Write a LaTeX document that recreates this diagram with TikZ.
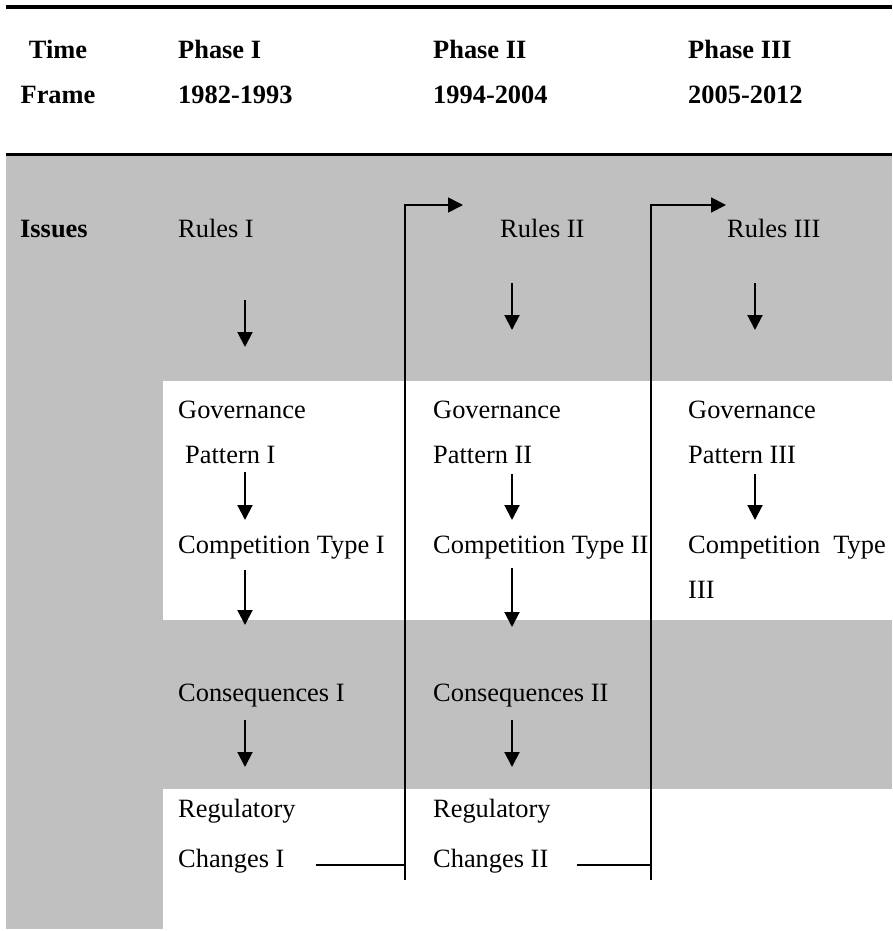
\documentclass[tikz,border=0pt]{standalone}
\usepackage{fontspec}
\setmainfont{Liberation Serif}
\usetikzlibrary{arrows.meta,positioning}
\definecolor{bandgrey}{HTML}{C0C0C0}
\tikzset{
  lbl/.style={anchor=base west, inner sep=0pt, font=\fontsize{26.4}{32}\selectfont},
  hdlbl/.style={lbl, font=\fontsize{26.4}{32}\selectfont\bfseries},
  rulebar/.style={line width=3.4pt},
  steparr/.style={-{Triangle[length=15pt, width=15pt]}, line width=2pt},
  fbline/.style={line width=1.8pt},
  fbarr/.style={fbline, -{Triangle[length=15pt, width=15pt]}},
}

\begin{document}
\begin{tikzpicture}[x=1pt, y=-1pt]
  \useasboundingbox (0,0) rectangle (892,931);

  % grey bands
  \fill[bandgrey] (6,156) rectangle (892,381);
  \fill[bandgrey] (6,156) rectangle (163,929);
  \fill[bandgrey] (163,620) rectangle (892,789);
  \draw[rulebar] (6,7) -- (892,7);
  \draw[rulebar] (6,154.3) -- (892,154.3);

  % header
  \node[hdlbl, anchor=base] (time) at (58,59) {Time};
  \node[hdlbl, anchor=base] (frame) at (58,104) {Frame};
  \node[hdlbl] (ph1) at (178,59) {Phase I};
  \node[hdlbl] (yr1) at (178,104) {1982-1993};
  \node[hdlbl] (ph2) at (433,59) {Phase II};
  \node[hdlbl] (yr2) at (433,104) {1994-2004};
  \node[hdlbl] (ph3) at (688,59) {Phase III};
  \node[hdlbl] (yr3) at (688,104) {2005-2012};
  \node[hdlbl] (issues) at (20,237) {Issues};

  % phase I
  \node[lbl] (rules1) at (178,237) {Rules I};
  \node[lbl] (gov1) at (178,418) {Governance};
  \node[lbl] (pat1) at (185,463) {Pattern I};
  \node[lbl] (comp1) at (178,553) {Competition Type I};
  \node[lbl] (cons1) at (178,701) {Consequences I};
  \node[lbl] (reg1) at (178,817) {Regulatory};
  \node[lbl] (chg1) at (178,867) {Changes I};

  % phase II
  \node[lbl] (rules2) at (500,237) {Rules II};
  \node[lbl] (gov2) at (433,418) {Governance};
  \node[lbl] (pat2) at (433,463) {Pattern II};
  \node[lbl] (comp2) at (433,553) {Competition Type II};
  \node[lbl] (cons2) at (433,701) {Consequences II};
  \node[lbl] (reg2) at (433,817) {Regulatory};
  \node[lbl] (chg2) at (433,867) {Changes II};

  % phase III
  \node[lbl] (rules3) at (727,237) {Rules III};
  \node[lbl] (gov3) at (688,418) {Governance};
  \node[lbl] (pat3) at (688,463) {Pattern III};
  \node[lbl] (comp3) at (688,553) {Competition\ \ Type};
  \node[lbl] (comp3b) at (688,598) {III};

  % arrows within a phase
  \foreach \x/\ya/\yb in {245/300/347, 245/472/520, 245/570/625, 245/720/767,
                          512/283/330, 512/474/520, 512/568/627, 512/720/767,
                          755/283/330, 755/474/520}
    \draw[steparr] (\x,\ya) -- (\x,\yb);

  % feedback into the next phase
  \coordinate (fb1top) at (405,205);
  \coordinate (fb1foot) at (405,880);
  \coordinate (fb2top) at (651,205);
  \coordinate (fb2foot) at (651,880);
  \draw[fbline] ([xshift=31pt,yshift=2pt]chg1.base east) -- ([yshift=2pt]fb1foot |- chg1.base);
  \draw[fbarr] (fb1foot) -- (fb1top) -- ++(58,0);
  \draw[fbline] ([xshift=28pt,yshift=2pt]chg2.base east) -- ([yshift=2pt]fb2foot |- chg2.base);
  \draw[fbarr] (fb2foot) -- (fb2top) -- ++(75,0);
\end{tikzpicture}
\end{document}
